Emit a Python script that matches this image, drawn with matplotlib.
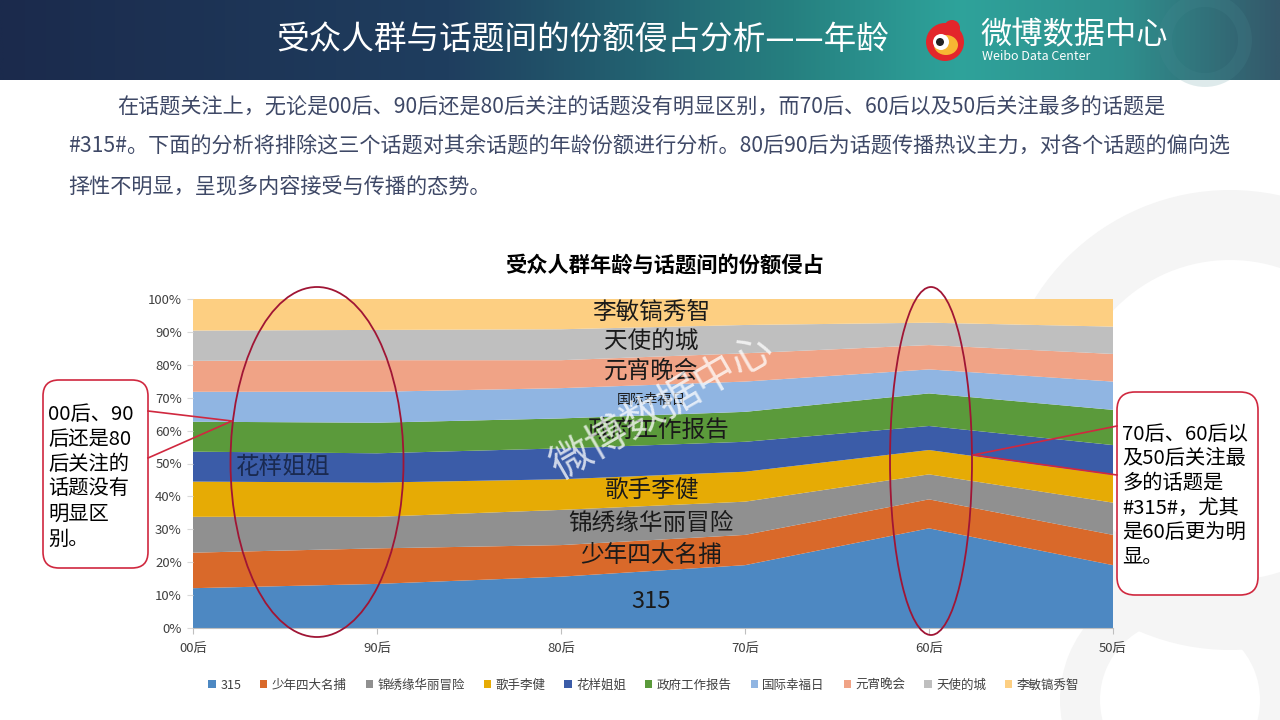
import numpy as np
import matplotlib
matplotlib.use("Agg")
import matplotlib.pyplot as plt
from matplotlib.patches import Ellipse, FancyBboxPatch, Circle, Wedge
from matplotlib.colors import LinearSegmentedColormap

plt.rcParams['font.family'] = ['Noto Sans CJK SC', 'DejaVu Sans']

# ---------------- data ----------------
ages = ['00后', '90后', '80后', '70后', '60后', '50后']
topics = ['315', '少年四大名捕', '锦绣缘华丽冒险', '歌手李健', '花样姐姐',
          '政府工作报告', '国际幸福日', '元宵晚会', '天使的城', '李敏镐秀智']
v_315    = [12.1, 13.4, 15.6, 19.1, 30.3, 19.1]
v_snsdmb = [10.8, 10.8,  9.6,  9.2,  8.8,  9.2]
v_jxy    = [10.9,  9.6, 10.7, 10.1,  7.6,  9.8]
v_gslj   = [10.7, 10.4,  9.3,  9.1,  7.4,  8.4]
v_hyjj   = [ 9.1,  8.9,  9.4,  9.1,  7.3,  9.1]
v_zfgz   = [ 9.1,  9.3,  9.1,  9.1,  9.9, 10.7]
v_gjxf   = [ 9.1,  9.4,  9.2,  9.2,  7.3,  8.6]
v_yxwh   = [ 9.4,  9.6,  8.5,  8.6,  7.4,  8.4]
v_tsdc   = [ 9.2,  9.2,  9.4,  8.6,  6.8,  8.3]
v_lmg    = [ 9.6,  9.4,  9.2,  7.9,  7.2,  8.4]
series = [v_315, v_snsdmb, v_jxy, v_gslj, v_hyjj, v_zfgz, v_gjxf, v_yxwh, v_tsdc, v_lmg]
colors = ['#4d88c2', '#d9692a', '#909090', '#e6ab05', '#3b5ca8',
          '#5b9a3b', '#90b5e2', '#f0a386', '#bfbfbf', '#fdcf82']
yticks = [0, 10, 20, 30, 40, 50, 60, 70, 80, 90, 100]

W, H = 1280, 720
fig = plt.figure(figsize=(12.8, 7.2), dpi=100)
fig.patch.set_facecolor('white')

# background overlay axes (pixel coords)
bg = fig.add_axes([0, 0, 1, 1], zorder=0)
bg.set_xlim(0, W); bg.set_ylim(H, 0); bg.axis('off')

# faint background rings
for (cx, cy, r, w) in [(1230, 420, 230, 70), (1180, 700, 120, 40)]:
    bg.add_patch(Wedge((cx, cy), r, 0, 360, width=w, facecolor='#f5f5f5', edgecolor='none'))

# header gradient
cmap = LinearSegmentedColormap.from_list('hdr', [
    (0.0, '#1b2a4c'), (0.35, '#1f3e5f'), (0.62, '#268080'),
    (0.75, '#2ea39b'), (0.88, '#2f8f8d'), (1.0, '#34586a')])
grad = np.linspace(0, 1, 512).reshape(1, -1)
bg.imshow(grad, cmap=cmap, extent=[0, W, 80, 0], aspect='auto', zorder=1)
bg.set_xlim(0, W); bg.set_ylim(H, 0)
bg.add_patch(Circle((1205, 40), 40, facecolor='none', edgecolor='#4a8c94', lw=10, alpha=0.18, zorder=2))

bg.text(583, 40, '受众人群与话题间的份额侵占分析——年龄', color='white', fontsize=23.5,
        ha='center', va='center', zorder=3)
# logo
bg.add_patch(Circle((945, 42), 19, facecolor='#e3262b', edgecolor='none', zorder=3))
bg.add_patch(Circle((952, 28), 8, facecolor='#e3262b', edgecolor='none', zorder=3))
bg.add_patch(Ellipse((946, 45), 24, 20, facecolor='#f7b733', edgecolor='none', zorder=4))
bg.add_patch(Circle((941, 42), 8, facecolor='white', edgecolor='none', zorder=5))
bg.add_patch(Circle((940, 42), 4, facecolor='#222222', edgecolor='none', zorder=6))
bg.text(980, 35, '微博数据中心', color='white', fontsize=22.5,
        ha='left', va='center', zorder=3)
bg.text(982, 56, 'Weibo Data Center', color='white', fontsize=9, style='italic',
        ha='left', va='center', zorder=3)

# paragraph
pc = '#3e4866'
pfs = 15.2
bg.text(117, 108, '在话题关注上，无论是00后、90后还是80后关注的话题没有明显区别，而70后、60后以及50后关注最多的话题是',
        color=pc, fontsize=pfs, ha='left', va='center')
bg.text(68, 147, '#315#。下面的分析将排除这三个话题对其余话题的年龄份额进行分析。80后90后为话题传播热议主力，对各个话题的偏向选',
        color=pc, fontsize=pfs, ha='left', va='center')
bg.text(68, 186, '择性不明显，呈现多内容接受与传播的态势。',
        color=pc, fontsize=pfs, ha='left', va='center')

bg.text(665, 265, '受众人群年龄与话题间的份额侵占', color='black', fontsize=15.3,
        fontweight='bold', ha='center', va='center')

# ---------------- chart ----------------
ax = fig.add_axes([193 / W, 1 - 628 / H, 920 / W, 329 / H], zorder=2)
ax.patch.set_alpha(0)
arr = np.array(series, dtype=float)
arr = arr / arr.sum(axis=0) * 100
x = np.arange(len(ages))
ax.stackplot(x, arr, colors=colors, labels=topics, linewidth=0)
ax.set_xlim(0, len(ages) - 1)
ax.set_ylim(0, 100)
ax.set_xticks(x)
ax.set_xticklabels(ages, fontsize=9.5, color='#404040')
ax.set_yticks(yticks)
ax.set_yticklabels([f'{t}%' for t in yticks], fontsize=9.5, color='#404040')
for s in ['top', 'right', 'left']:
    ax.spines[s].set_visible(False)
ax.spines['bottom'].set_color('#bfbfbf')
ax.tick_params(axis='x', length=4, color='#bfbfbf', pad=6)
ax.tick_params(axis='y', length=4, color='#d9d9d9', pad=4)

cum = np.cumsum(arr, axis=0)
lbl_fs = 17
label_spec = [  # (series index, x position, size)
    (0, 2.49, lbl_fs), (1, 2.49, lbl_fs), (2, 2.49, lbl_fs), (3, 2.49, lbl_fs),
    (4, 0.49, lbl_fs), (5, 2.53, lbl_fs), (6, 2.49, 10), (7, 2.49, lbl_fs),
    (8, 2.49, lbl_fs), (9, 2.49, lbl_fs)]
for i, xp, fs in label_spec:
    top = np.interp(xp, x, cum[i])
    bot = np.interp(xp, x, cum[i - 1]) if i > 0 else 0.0
    yc = (top + bot) / 2
    if i == 0:
        yc = 8.2
    ax.text(xp, yc, topics[i], fontsize=fs, ha='center', va='center',
            color='#1a1a1a' if i != 4 else '#1a2a50')

leg = ax.legend(loc='upper center', bbox_to_anchor=(0.49, -0.12), ncol=10, frameon=False,
                fontsize=9, handlelength=0.6, handleheight=0.6, handletextpad=0.35,
                columnspacing=1.5)
for t in leg.get_texts():
    t.set_color('#404040')

# ---------------- foreground overlay ----------------
fg = fig.add_axes([0, 0, 1, 1], zorder=5)
fg.set_xlim(0, W); fg.set_ylim(H, 0); fg.axis('off'); fg.patch.set_alpha(0)

# watermark
fg.text(662, 408, '微博数据中心', fontsize=30, color='white', alpha=0.75,
        rotation=30, ha='center', va='center')

ec = '#a01535'
fg.add_patch(Ellipse((317, 462), 173, 350, facecolor='none', edgecolor=ec, lw=1.3))
fg.add_patch(Ellipse((931, 461), 82, 348, facecolor='none', edgecolor=ec, lw=1.3))

bc = '#d0283f'
# left callout
fg.add_patch(FancyBboxPatch((43, 380), 105, 188, boxstyle='round,pad=0,rounding_size=16',
                            facecolor='white', edgecolor=bc, lw=1.2))
fg.plot([148, 232, 148], [411, 421, 458], color=bc, lw=1.2)
left_lines = ['00后、90', '后还是80', '后关注的', '话题没有', '明显区', '别。']
for k, ln in enumerate(left_lines):
    fg.text(48, 414 + k * 25, ln, fontsize=14.6, color='black', ha='left', va='center')

# right callout
fg.add_patch(FancyBboxPatch((1117, 392), 141, 203, boxstyle='round,pad=0,rounding_size=18',
                            facecolor='white', edgecolor=bc, lw=1.2))
fg.plot([1117, 973, 1117], [426, 455, 475], color=bc, lw=1.2)
right_lines = ['70后、60后以', '及50后关注最', '多的话题是', '#315#，尤其', '是60后更为明', '显。']
for k, ln in enumerate(right_lines):
    fg.text(1122, 434 + k * 24.7, ln, fontsize=14.6, color='black', ha='left', va='center')

fig.savefig('out.png', dpi=100, facecolor='white')
